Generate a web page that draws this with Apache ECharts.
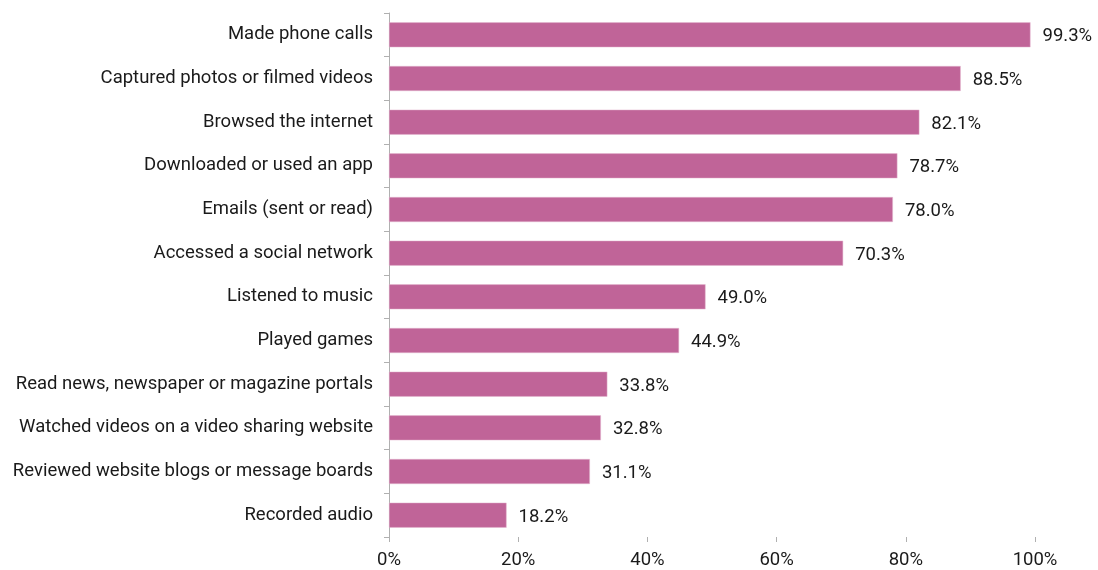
<!DOCTYPE html>
<html>
<head>
<meta charset="utf-8">
<script src="https://cdn.jsdelivr.net/npm/echarts@6/dist/echarts.min.js"></script>
<style>
  html, body { margin: 0; padding: 0; background: #fff; }
  #chart { width: 1098px; height: 570px; }
</style>
</head>
<body>
<div id="chart"></div>
<script>
// Smartphone activities, share of users (%), listed top to bottom
const activities = [
  'Made phone calls',
  'Captured photos or filmed videos',
  'Browsed the internet',
  'Downloaded or used an app',
  'Emails (sent or read)',
  'Accessed a social network',
  'Listened to music',
  'Played games',
  'Read news, newspaper or magazine portals',
  'Watched videos on a video sharing website',
  'Reviewed website blogs or message boards',
  'Recorded audio'
];
const shares = [99.3, 88.5, 82.1, 78.7, 78.0, 70.3, 49.0, 44.9, 33.8, 32.8, 31.1, 18.2];

const chart = echarts.init(document.getElementById('chart'));
const font = 'Roboto, "DejaVu Sans", sans-serif';
const textSize = 18.5;

chart.setOption({
  animation: false,
  grid: { left: 389, right: 63, top: 13, bottom: 33, containLabel: false },
  xAxis: {
    type: 'value',
    min: 0,
    max: 100,
    interval: 20,
    axisLine: { show: false },
    axisTick: { show: true, length: 5, lineStyle: { color: '#b0b0b0' } },
    splitLine: { show: false },
    axisLabel: {
      formatter: '{value}%',
      color: '#1a1a1a',
      fontFamily: font,
      fontSize: textSize,
      margin: 14
    }
  },
  yAxis: {
    type: 'category',
    inverse: true,
    data: activities,
    axisLine: { show: true, lineStyle: { color: '#b0b0b0', width: 1 } },
    axisTick: { show: true, length: 5, lineStyle: { color: '#b0b0b0' } },
    axisLabel: {
      color: '#1a1a1a',
      fontFamily: font,
      fontSize: textSize,
      margin: 16,
      padding: [4, 0, 0, 0]
    }
  },
  series: [{
    type: 'bar',
    data: shares,
    barWidth: 25,
    itemStyle: { color: '#C06498', borderColor: '#e4b8d0', borderWidth: 0.5 },
    label: {
      show: true,
      position: 'right',
      distance: 12,
      offset: [0, 2],
      formatter: p => p.value.toFixed(1) + '%',
      color: '#1a1a1a',
      fontFamily: font,
      fontSize: textSize
    }
  }]
});
</script>
</body>
</html>
